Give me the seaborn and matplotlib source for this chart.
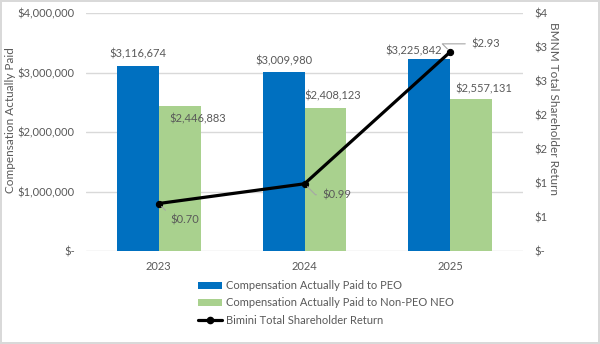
import numpy as np
import pandas as pd
import matplotlib
matplotlib.use("Agg")
import matplotlib.pyplot as plt
from matplotlib.patches import Patch
from matplotlib.lines import Line2D
from matplotlib.ticker import FuncFormatter, MultipleLocator
import seaborn as sns

years = ["2023", "2024", "2025"]
peo_cap = [3116674, 3009980, 3225842]
non_peo_cap = [2446883, 2408123, 2557131]
tsr = [0.70, 0.99, 2.93]
series_names = ["Compensation Actually Paid to PEO", "Compensation Actually Paid to Non-PEO NEO"]
line_name = "Bimini Total Shareholder Return"

BLUE = "#0070C0"
GREEN = "#A9D18E"
TXT = "#595959"
GRID = "#D9D9D9"

sns.set_theme(style="white")
plt.rcParams["font.family"] = ["Lato", "DejaVu Sans"]

df = pd.DataFrame({
    "year": years * 2,
    "value": peo_cap + non_peo_cap,
    "series": [series_names[0]] * 3 + [series_names[1]] * 3,
})

fig = plt.figure(figsize=(6.0, 3.44), dpi=100)
fig.patch.set_edgecolor(GRID)
fig.patch.set_linewidth(1.5)
ax = fig.add_axes([0.143, 0.270, 0.729, 0.692])

sns.barplot(data=df, x="year", y="value", hue="series", palette=[BLUE, GREEN],
            width=0.576, gap=0, saturation=1, ax=ax, legend=False, errorbar=None,
            linewidth=0)

ax.set_ylim(0, 4000000)
ax.yaxis.set_major_locator(MultipleLocator(1000000))
ax.yaxis.set_major_formatter(FuncFormatter(lambda v, p: "$-" if v == 0 else f"${v:,.0f}"))
ax.grid(axis="y", color=GRID, linewidth=1)
ax.set_axisbelow(True)
for s in ax.spines.values():
    s.set_visible(False)
ax.tick_params(axis="both", length=0, labelsize=8, colors=TXT)
ax.tick_params(axis="y", pad=8)
ax.tick_params(axis="x", pad=7)
ax.set_xlabel("")
ax.set_ylabel("Compensation Actually Paid", fontsize=8.5, color=TXT, va="center")
ax.yaxis.set_label_coords(-0.173, 0.55)

# bar data labels
bars = [b for b in ax.patches if b.get_height() > 0]
blue_bars = sorted(bars[:3], key=lambda b: b.get_x())
green_bars = sorted(bars[3:6], key=lambda b: b.get_x())
blue_off = [(0, 12), (0, 11), (-16, 8)]
green_off = [(18, -13), (7, 12), (13, 10)]
for b, v, o in zip(blue_bars, peo_cap, blue_off):
    ax.annotate(f"${v:,.0f}", (b.get_x() + b.get_width() / 2, b.get_height()),
                xytext=o, textcoords="offset pixels", ha="center", va="center",
                fontsize=8, color=TXT)
for b, v, o in zip(green_bars, non_peo_cap, green_off):
    ax.annotate(f"${v:,.0f}", (b.get_x() + b.get_width() / 2, b.get_height()),
                xytext=o, textcoords="offset pixels", ha="center", va="center",
                fontsize=8, color=TXT)

ax2 = ax.twinx()
xs = np.arange(len(years))
sns.lineplot(x=xs, y=tsr, ax=ax2, color="black", linewidth=2.3, marker="o",
             markersize=4.5, markeredgecolor="black")
ax2.set_ylim(0, 3.5)
ax2.yaxis.set_major_locator(MultipleLocator(0.5))
ax2.yaxis.set_major_formatter(FuncFormatter(lambda v, p: "$-" if abs(v) < 1e-9 else f"${int(np.floor(v + 0.5))}"))
for s in ax2.spines.values():
    s.set_visible(False)
ax2.tick_params(axis="y", length=0, labelsize=8, colors=TXT, pad=8)
ax2.set_ylabel("BMNM Total Shareholder Return", fontsize=8.5, color=TXT, rotation=270,
               va="center")
ax2.yaxis.set_label_coords(1.069, 0.6)
ax2.set_xlim(-0.5, 2.5)

line_off = [(12, -16), (18, -11), (21, 8)]
for x, v, o in zip(xs, tsr, line_off):
    ax2.annotate(f"${v:.2f}", (x, v), xytext=o, textcoords="offset pixels",
                 ha="left", va="center", fontsize=8, color=TXT,
                 arrowprops=dict(arrowstyle="-", color="#A6A6A6", lw=0.8,
                                 shrinkA=2, shrinkB=3,
                                 connectionstyle="angle,angleA=0,angleB=-45,rad=0"))

handles = [Patch(facecolor=BLUE, edgecolor="none"),
           Patch(facecolor=GREEN, edgecolor="none"),
           Line2D([0], [0], color="black", linewidth=2.3, marker="o", markersize=4.5)]
labels = series_names + [line_name]
fig.legend(handles, labels, loc="upper left", bbox_to_anchor=(0.33, 0.185),
           frameon=False, fontsize=8, labelcolor=TXT, handlelength=2.2,
           handleheight=0.6, handletextpad=0.3, labelspacing=0.55,
           borderaxespad=0, borderpad=0)

fig.savefig("out.png", dpi=100, edgecolor=fig.get_edgecolor())
